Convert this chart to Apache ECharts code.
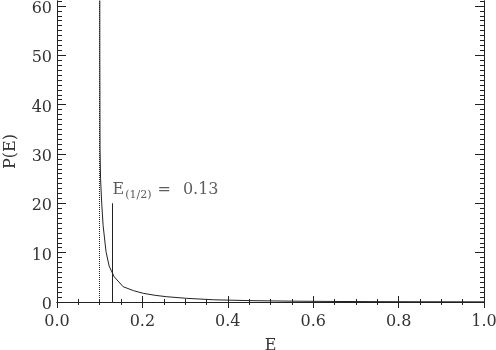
<!DOCTYPE html>
<html>
<head>
<meta charset="utf-8">
<script src="https://cdn.jsdelivr.net/npm/echarts@6/dist/echarts.min.js"></script>
<style>
  html, body { margin: 0; padding: 0; background: #fff; }
  #chart { width: 496px; height: 350px; }
</style>
</head>
<body>
<div id="chart"></div>
<script>
// values
const energies = [0.1001, 0.1003, 0.1008, 0.102, 0.1047, 0.108, 0.1148, 0.122, 0.134, 0.155,
  0.179, 0.202, 0.23, 0.257, 0.304, 0.366, 0.45, 0.55, 0.65, 0.75, 0.85, 0.95, 1.0]
const probs = [90, 50, 31, 25, 20, 15.5, 10.2, 7.3, 5.1, 3.1,
  2.3, 1.76, 1.35, 1.07, 0.74, 0.45, 0.28, 0.17, 0.11, 0.07, 0.05, 0.035, 0.03]

const eMin = 0.1 // dotted cutoff line
const eHalf = 0.13 // median marker
const eHalfTop = 20

const yMajorTicks = [0, 10, 20, 30, 40, 50, 60]
const yMinorTicks = []
for (let v = 0; v <= 61; v++) yMinorTicks.push(v)

const font = 'DejaVu Serif'
const ink = '#222'
const textColor = '#333'

const chart = echarts.init(document.getElementById('chart'))

// y axes: major + minor ticks on each side, all share the same range
function yAx(pos, ticks, len, labels) {
  return {
    type: 'value',
    position: pos,
    min: 0,
    max: 61,
    offset: 0,
    name: labels ? 'P(E)' : '',
    nameLocation: 'middle',
    nameGap: 38,
    nameTextStyle: { fontFamily: font, fontSize: 16, color: textColor },
    axisLine: { show: true, lineStyle: { color: ink, width: 1 } },
    axisTick: { show: true, inside: true, length: len, customValues: ticks, lineStyle: { color: ink } },
    axisLabel: labels ? {
      show: true, customValues: yMajorTicks, margin: 5,
      formatter: v => '{a|' + v + '}',
      rich: { a: { fontFamily: font, fontSize: 16, color: textColor, lineHeight: 16, padding: [6, 0, 0, 0] } }
    } : { show: false },
    splitLine: { show: false }
  }
}

function xAx(pos, labels) {
  return {
    type: 'value',
    position: pos,
    min: 0,
    max: 1,
    interval: 0.2,
    name: labels ? 'E' : '',
    nameLocation: 'middle',
    nameGap: 36,
    nameTextStyle: { fontFamily: font, fontSize: 16, color: textColor },
    axisLine: { show: true, lineStyle: { color: ink, width: 1 } },
    axisTick: { show: true, inside: true, length: 6, lineStyle: { color: ink } },
    minorTick: { show: true, splitNumber: 4, length: 3, lineStyle: { color: ink } },
    axisLabel: labels ? {
      show: true, margin: 12, fontFamily: font, fontSize: 16, color: textColor,
      formatter: v => v.toFixed(1)
    } : { show: false },
    splitLine: { show: false },
    minorSplitLine: { show: false }
  }
}

chart.setOption({
  animation: false,
  backgroundColor: '#fff',
  grid: { left: 57, right: 12, top: 1, bottom: 48, outerBoundsMode: 'none', containLabel: false },
  xAxis: [xAx('bottom', true), xAx('top', false)],
  yAxis: [
    yAx('left', yMajorTicks, 9, true),
    yAx('left', yMinorTicks, 5, false),
    yAx('right', yMajorTicks, 9, false),
    yAx('right', yMinorTicks, 4, false)
  ],
  series: [
    {
      type: 'line',
      data: energies.map((e, i) => [e, probs[i]]),
      showSymbol: false,
      smooth: false,
      clip: true,
      lineStyle: { color: ink, width: 1 },
      markLine: {
        silent: true,
        symbol: 'none',
        label: { show: false },
        data: [
          { xAxis: eMin, lineStyle: { type: 'dotted', color: ink, width: 1 } },
          [
            { coord: [eHalf, 0], lineStyle: { type: 'solid', color: ink, width: 1 } },
            { coord: [eHalf, eHalfTop] }
          ]
        ]
      }
    },
    {
      type: 'scatter',
      data: [[eHalf, eHalfTop]],
      symbolSize: 0,
      silent: true,
      label: {
        show: true,
        position: [0, -3],
        align: 'left',
        verticalAlign: 'bottom',
        formatter: '{e|E}{s|(1/2)}{q|=}{n|0.13}',
        rich: {
          e: { fontFamily: font, fontSize: 16, color: textColor, lineHeight: 20, verticalAlign: 'middle' },
          s: { fontFamily: font, fontSize: 11, color: textColor, lineHeight: 11, padding: [10, 0, 0, 1], verticalAlign: 'bottom' },
          q: { fontFamily: font, fontSize: 16, color: textColor, lineHeight: 20, padding: [0, 0, 0, 6], verticalAlign: 'middle' },
          n: { fontFamily: font, fontSize: 16, color: textColor, lineHeight: 20, padding: [0, 0, 0, 12], verticalAlign: 'middle' }
        }
      }
    }
  ]
})
</script>
</body>
</html>
